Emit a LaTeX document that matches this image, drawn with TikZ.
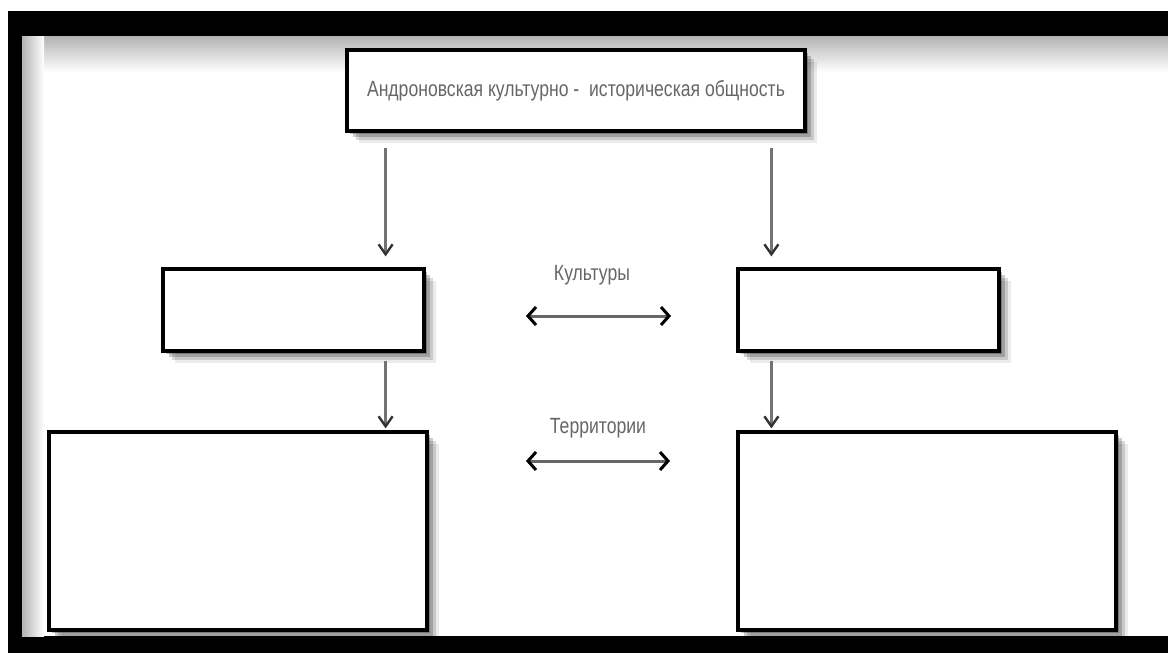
\documentclass[tikz,border=0pt]{standalone}
\usepackage{fontspec}
\setmainfont{Liberation Sans}[FakeStretch=0.8]
\usetikzlibrary{calc,arrows.meta,shadows}

\tikzset{
  box/.style={draw=black, line width=1.6pt, fill=white, inner sep=0pt,
    drop shadow={shadow xshift=6pt, shadow yshift=-6pt, opacity=0.08, fill=black},
    drop shadow={shadow xshift=4.5pt, shadow yshift=-4.5pt, opacity=0.14, fill=black},
    drop shadow={shadow xshift=3pt, shadow yshift=-3pt, opacity=0.2, fill=black},
    drop shadow={shadow xshift=1.5pt, shadow yshift=-1.5pt, opacity=0.25, fill=black}},
  arr/.style={draw=black!55, line width=1.2pt, -{Straight Barb[length=5pt,width=7pt,black!80]}},
  darr/.style={draw=black!60, line width=1.5pt,
    {Straight Barb[length=4pt,width=9pt,black]}-{Straight Barb[length=4pt,width=9pt,black]}},
  lbl/.style={text=black!60, font=\fontsize{11}{13}\selectfont, inner sep=0pt}
}

\begin{document}
\begin{tikzpicture}[x=0.5pt, y=-0.5pt]
  \useasboundingbox (0,0) rectangle (1168,653);
  % frame
  \fill[black] (8,11) rectangle (1168,653);
  \fill[white] (22,36) rectangle (1168,636);
  \shade[top color=black!30, bottom color=white] (22,36) rectangle (1168,72);
  \shade[left color=black!30, right color=white] (22,36) rectangle (44,636);

  \node (top) [box, minimum width=229pt, minimum height=40.5pt] at (576,90.5)
    {\textcolor{black!60}{\fontsize{11}{13}\selectfont Андроновская культурно - \ историческая общность}};
  \node (cultL) [box, minimum width=130.5pt, minimum height=41pt] at (293.5,310) {};
  \node (cultR) [box, minimum width=130.5pt, minimum height=41pt] at (868.5,310) {};
  \node (terrL) [box, minimum width=189pt, minimum height=99pt] at (238,531) {};
  \node (terrR) [box, minimum width=189pt, minimum height=99pt] at (927,531) {};

  % arrows down
  \draw[arr] ([xshift=-20pt,yshift=-7.5pt]top.south -| cultL.north east) -- ([xshift=-20pt,yshift=5.5pt]cultL.north east);
  \draw[arr] ([xshift=17.5pt,yshift=-7.5pt]top.south -| cultR.north west) -- ([xshift=17.5pt,yshift=5.5pt]cultR.north west);
  \draw[arr] ([xshift=-20pt,yshift=-4pt]cultL.south east) -- ([xshift=-20pt,yshift=1pt]cultL.south east |- terrL.north);
  \draw[arr] ([xshift=17.5pt,yshift=-4pt]cultR.south west) -- ([xshift=17.5pt,yshift=1pt]cultR.south west |- terrR.north);

  % middle labels
  \coordinate (k1) at (526,316);
  \coordinate (k2) at (671,316);
  \coordinate (t1) at (526,461);
  \coordinate (t2) at (670,461);
  \node (kult) [lbl] at (592,275) {Культуры};
  \node (terr) [lbl] at (598,428) {Территории};
  \draw[darr] (k1) -- (k2);
  \draw[darr] (t1) -- (t2);
\end{tikzpicture}
\end{document}
